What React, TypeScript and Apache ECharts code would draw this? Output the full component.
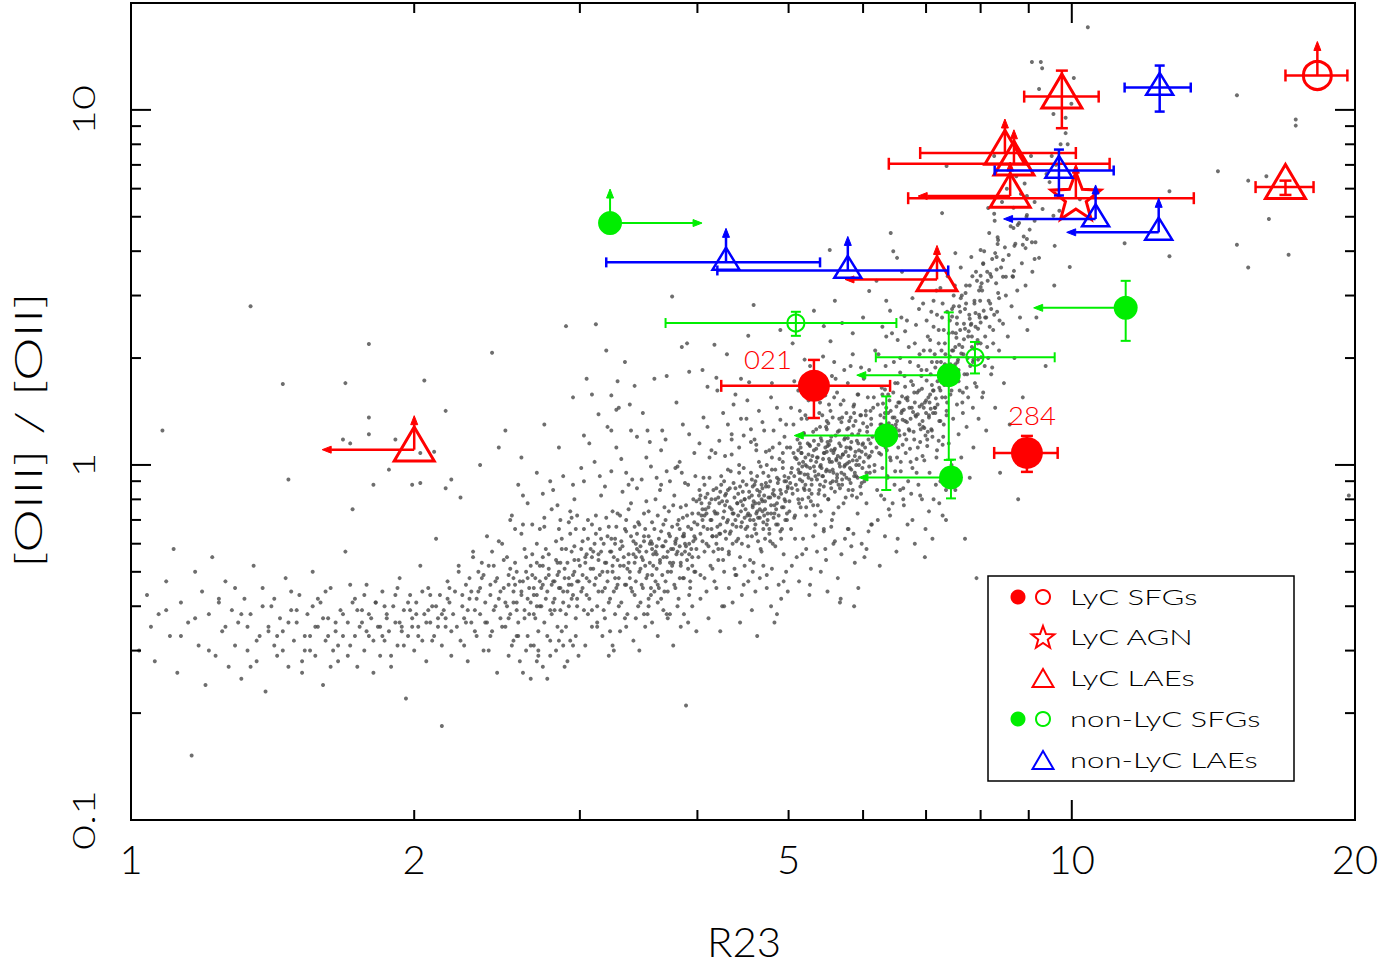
import React, { useEffect, useRef } from "react";
import * as echarts from "echarts";

// ---------- axes ----------
const X_MIN = 1;
const X_MAX = 20;
const Y_MIN = 0.1;
const Y_MAX = 20;
const X_TICK_LABELS = [1, 2, 5, 10, 20];
const Y_TICK_LABELS = [0.1, 1, 10];
const X_MAJOR_TICKS = [10];
const X_MINOR_TICKS = [2, 3, 4, 5, 6, 7, 8, 9];
const Y_MAJOR_TICKS = [1, 10];
const Y_MINOR_TICKS = [0.2, 0.3, 0.4, 0.5, 0.6, 0.7, 0.8, 0.9, 2, 3, 4, 5, 6, 7, 8, 9];
const X_TITLE = "R23";
const Y_TITLE = "[OIII] / [OII]";
const LEGEND_LABELS = ["LyC SFGs", "LyC AGN", "LyC LAEs", "non-LyC SFGs", "non-LyC LAEs"];

// ---------- measured objects: R23, O32, error ranges, limit flags ----------
type Obj = {
  r: number; o: number;
  rLo?: number; rHi?: number; oLo?: number; oHi?: number;
  up?: boolean; left?: boolean; right?: boolean; label?: string;
};

const LYC_SFG_FILLED: Obj[] = [
  { label: "021", r: 5.32, o: 1.67, rLo: 4.24, rHi: 6.41, oLo: 1.356, oHi: 1.976 },
  { label: "284", r: 8.96, o: 1.081, rLo: 8.27, rHi: 9.66, oLo: 0.956, oHi: 1.207 },
];
const LYC_SFG_OPEN: Obj[] = [
  { r: 18.24, o: 12.5, rLo: 16.87, rHi: 19.63, up: true },
];
const LYC_AGN: Obj[] = [
  { r: 10.1, o: 5.64, rLo: 6.7, rHi: 13.48, up: true },
];
const LYC_LAE: Obj[] = [
  { r: 9.76, o: 10.9, rLo: 8.9, rHi: 10.68, oLo: 8.88, oHi: 12.9 },
  { r: 8.49, o: 7.56, rLo: 6.9, rHi: 10.1, up: true },
  { r: 8.68, o: 7.05, rLo: 6.39, rHi: 10.97, up: true },
  { r: 8.6, o: 5.72, up: true, left: true },
  { r: 2.0, o: 1.104, up: true, left: true },
  { r: 7.19, o: 3.33, up: true, left: true },
  { r: 16.87, o: 6.06, rLo: 15.68, rHi: 18.07, oLo: 5.76, oHi: 6.32 },
];
const NONLYC_SFG_FILLED: Obj[] = [
  { r: 3.23, o: 4.8, up: true, right: true },
  { r: 7.4, o: 1.79, oLo: 1.033, oHi: 2.69, left: true },
  { r: 6.35, o: 1.21, oLo: 0.85, oHi: 1.56, left: true },
  { r: 7.44, o: 0.922, oLo: 0.805, oHi: 1.035, left: true },
  { r: 11.41, o: 2.77, oLo: 2.236, oHi: 3.3, left: true },
];
const NONLYC_SFG_OPEN: Obj[] = [
  { r: 5.09, o: 2.51, rLo: 3.7, rHi: 6.51, oLo: 2.31, oHi: 2.7 },
  { r: 7.89, o: 2.01, rLo: 6.19, rHi: 9.59, oLo: 1.81, oHi: 2.22 },
];
const NONLYC_LAE: Obj[] = [
  { r: 12.4, o: 11.56, rLo: 11.38, rHi: 13.38, oLo: 9.89, oHi: 13.33 },
  { r: 9.69, o: 6.75, rLo: 8.28, rHi: 11.08, oLo: 5.74, oHi: 7.73 },
  { r: 10.6, o: 4.93, up: true, left: true },
  { r: 12.37, o: 4.52, up: true, left: true },
  { r: 4.29, o: 3.72, rLo: 3.2, rHi: 5.4, up: true },
  { r: 5.78, o: 3.53, rLo: 4.2, rHi: 7.39, up: true },
];

// ---------- background galaxy sample [R23, O32] ----------
const BG_LOW: number[][] = [
  [1.02,0.30],[1.04,0.43],[1.05,0.35],[1.06,0.28],[1.07,0.38],[1.08,1.25],[1.09,0.47],[1.10,0.33],[1.11,0.58],[1.12,0.26],
  [1.13,0.41],[1.15,0.36],[1.16,0.152],[1.17,0.50],[1.18,0.31],[1.19,0.44],[1.20,0.24],[1.21,0.38],[1.22,0.55],[1.23,0.29],
  [1.24,0.42],[1.25,0.34],[1.26,0.47],[1.27,0.27],[1.28,0.39],[1.29,0.31],[1.30,0.36],[1.31,0.25],[1.32,0.42],[1.33,0.30],
  [1.34,2.80],[1.34,0.38],[1.35,0.52],[1.36,0.28],[1.37,0.33],[1.38,0.45],[1.39,0.23],[1.40,0.35],[1.41,0.40],[1.42,0.31],
  [1.43,0.29],[1.44,0.37],[1.45,1.69],[1.45,0.34],[1.46,0.48],[1.47,0.91],[1.47,0.27],[1.48,0.39],[1.49,0.32],[1.50,0.36],
  [1.51,0.43],[1.52,0.26],[1.53,0.30],[1.54,0.38],[1.55,0.33],[1.56,0.50],[1.57,0.29],[1.58,0.35],[1.59,0.41],[1.60,0.24],
  [1.61,0.32],[1.62,0.37],[1.63,0.45],[1.64,0.30],[1.65,0.34],[1.66,0.28],[1.67,0.39],[1.68,0.33],[1.69,0.57],[1.70,0.36],
  [1.71,0.31],[1.72,0.75],[1.73,0.42],[1.74,0.27],[1.75,0.35],[1.76,0.39],[1.77,0.30],[1.78,0.46],[1.79,2.19],[1.79,0.33],
  [1.80,0.37],[1.81,0.26],[1.82,0.41],[1.83,0.35],[1.84,0.29],[1.85,0.44],[1.86,0.32],[1.87,0.38],[1.88,0.97],[1.88,0.34],
  [1.89,0.27],[1.90,0.40],[1.91,0.36],[1.92,0.31],[1.93,0.48],[1.94,0.35],[1.95,0.39],[1.96,0.22],[1.97,0.33],[1.98,0.43],
  [1.99,0.37],[2.00,0.30],[2.01,0.41],[2.02,0.35],[2.03,0.52],[2.04,0.32],[2.05,1.73],[2.05,0.38],[2.06,0.28],[2.07,0.45],
  [2.08,0.36],[2.09,0.40],[2.10,0.33],[2.11,0.62],[2.12,0.37],[2.13,0.43],[2.14,0.31],[2.14,0.184],[2.15,0.39],[2.16,0.35],
  [2.17,0.47],[2.18,0.41],[2.19,0.29],[2.20,0.38],[1.69,1.70],[2.16,1.42],[1.79,1.36],[1.79,1.22],[1.68,1.18],[1.71,1.15],
  [1.91,1.18],[2.03,1.08],[2.10,1.09],[1.81,0.88],[1.99,0.88],[2.03,0.89],[2.19,0.91],[2.16,0.86],
  [1.13,0.33],[1.38,0.40],[1.21,0.30],[1.57,0.35],[1.29,0.45],[1.66,0.31],[1.09,0.39],[1.47,0.36],[1.74,0.39],[1.34,0.27],
  [1.61,0.44],[1.26,0.35],[1.53,0.33],[1.81,0.32],[1.42,0.42],[1.70,0.29],[1.17,0.37],[1.93,0.36],[1.50,0.39],[1.77,0.43],
  [1.36,0.32],[1.63,0.27],[1.86,0.40],[1.45,0.30],[1.97,0.41],[1.31,0.38],[1.58,0.42],[2.02,0.33],[1.40,0.34],[1.68,0.38],
  [1.89,0.29],[1.55,0.30],[2.07,0.39],[1.24,0.41],[1.73,0.33],[1.99,0.35],[1.48,0.44],[2.12,0.35],[1.65,0.36],[1.84,0.35],
  [2.17,0.42],[1.52,0.28],[1.79,0.38],[2.04,0.44],[1.43,0.33],[1.91,0.43],[2.09,0.32],[1.60,0.37],[1.95,0.31],[2.14,0.38],
  [1.71,0.46],[1.87,0.37],[2.19,0.34],[1.33,0.35],[1.76,0.36],[2.01,0.38],[1.56,0.40],[1.82,0.41],[2.06,0.36],[1.94,0.34],
  [1.62,0.33],[2.11,0.40],[1.85,0.33],[2.16,0.37],[1.72,0.41],[1.98,0.39],[1.92,0.45],[2.18,0.45],[1.78,0.34],[2.08,0.43],
];
const BG_MID: number[][] = [
  [2.21,0.44],[2.22,0.35],[2.23,0.50],[2.24,0.32],[2.24,0.81],[2.25,0.40],[2.26,0.37],[2.27,0.46],[2.28,0.28],[2.29,0.42],
  [2.30,0.36],[2.31,0.55],[2.32,0.39],[2.33,0.33],[2.34,0.44],[2.35,0.38],[2.36,0.48],[2.37,0.30],[2.38,0.41],[2.39,0.36],
  [2.40,0.52],[2.41,0.43],[2.42,2.07],[2.42,0.34],[2.43,0.39],[2.44,0.47],[2.45,0.26],[2.46,0.42],[2.46,1.12],[2.47,0.37],
  [2.48,0.60],[2.49,0.45],[2.50,0.35],[2.51,0.40],[2.52,0.49],[2.53,0.38],[2.54,0.31],[2.55,0.44],[2.56,0.53],[2.57,0.41],
  [2.58,0.36],[2.59,0.47],[2.60,0.43],[2.61,0.68],[2.62,0.39],[2.63,0.50],[2.64,0.33],[2.65,0.45],[2.66,0.41],[2.67,0.56],
  [2.68,0.38],[2.69,0.48],[2.70,0.43],[2.71,0.29],[2.72,0.52],[2.73,0.40],[2.74,0.46],[2.75,0.36],[2.76,0.58],[2.77,0.44],
  [2.78,0.49],[2.79,0.39],[2.80,0.75],[2.81,0.47],[2.82,0.42],[2.83,0.54],[2.84,0.35],[2.85,0.50],[2.86,0.45],[2.87,0.62],
  [2.88,0.41],[2.89,0.48],[2.90,2.46],[2.90,0.38],[2.91,0.53],[2.92,0.46],[2.93,0.32],[2.94,0.57],[2.95,0.43],[2.96,0.50],
  [2.97,0.66],[2.98,0.40],[2.99,0.47],[2.52,0.46],[2.55,0.41],[2.57,0.50],[2.60,0.44],[2.62,0.37],[2.64,0.48],[2.66,0.52],
  [2.68,0.45],[2.70,0.40],[2.72,0.47],[2.74,0.55],[2.76,0.42],[2.78,0.51],[2.80,0.46],[2.82,0.39],[2.84,0.49],[2.86,0.53],
  [2.88,0.44],[2.90,0.58],[2.92,0.48],[2.94,0.42],[2.96,0.54],[2.98,0.47],
  [2.23,0.52],[2.71,0.34],[2.46,0.61],[2.88,0.31],[2.35,0.45],[2.62,0.58],[2.97,0.37],[2.28,0.39],[2.54,0.72],[2.81,0.41],
  [2.40,0.30],[2.67,0.49],[2.93,0.64],[2.31,0.57],[2.58,0.33],[2.84,0.53],[2.44,0.40],[2.75,0.67],[2.26,0.31],[2.51,0.55],
  [2.79,0.29],[2.37,0.49],[2.64,0.42],[2.91,0.44],[2.48,0.35],[2.70,0.60],[2.99,0.54],[2.33,0.42],[2.56,0.46],[2.86,0.39],
  [2.42,0.57],[2.69,0.37],[2.95,0.49],[2.29,0.48],[2.60,0.64],[2.77,0.33],[2.38,0.36],[2.53,0.51],[2.83,0.61],[2.47,0.44],
  [2.73,0.45],[2.90,0.35],[2.25,0.43],[2.66,0.31],[2.94,0.71],[2.36,0.53],[2.57,0.39],[2.82,0.47],[2.45,0.48],[2.74,0.52],
  [2.98,0.42],[2.32,0.34],[2.63,0.55],[2.87,0.58],[2.41,0.46],[2.68,0.43],[2.92,0.40],[2.50,0.41],[2.78,0.56],[2.39,0.63],
  [2.59,0.28],[2.85,0.45],[2.27,0.36],[2.55,0.48],[2.80,0.38],[2.43,0.52],[2.72,0.40],[2.96,0.59],[2.34,0.50],[2.61,0.47],
  [2.89,0.51],[2.49,0.54],[2.76,0.48],[2.30,0.44],[2.65,0.38],[2.94,0.46],[2.52,0.37],[2.85,0.66],[2.41,0.33],[2.70,0.53],
  [3.00,0.52],[3.01,0.44],[3.02,0.61],[3.03,0.39],[3.04,0.55],[3.05,0.48],[3.06,0.70],[3.07,0.42],[3.08,0.58],[3.09,0.35],
  [3.10,0.51],[3.11,0.46],[3.12,0.64],[3.13,0.40],[3.14,0.56],[3.15,0.49],[3.16,0.82],[3.17,0.44],[3.18,0.60],[3.19,0.37],
  [3.20,0.53],[3.21,0.47],[3.22,0.67],[3.23,0.42],[3.24,0.57],[3.25,0.50],[3.26,0.30],[3.27,0.62],[3.28,0.45],[3.29,0.54],
  [3.30,1.45],[3.30,0.48],[3.31,0.72],[3.32,0.41],[3.33,0.59],[3.34,0.52],[3.35,0.46],[3.36,0.65],[3.37,0.38],[3.38,0.56],
  [3.39,0.50],[3.40,0.78],[3.41,0.44],[3.42,0.61],[3.43,0.53],[3.44,0.47],[3.45,1.20],[3.45,0.58],[3.46,0.40],[3.47,0.68],
  [3.48,0.51],[3.49,0.55],[3.50,0.45],[3.51,0.63],[3.52,0.35],[3.53,0.57],[3.54,0.49],[3.55,0.74],[3.56,0.53],[3.57,0.43],
  [3.58,0.60],[3.59,0.52],[3.60,1.75],[3.60,0.66],[3.61,0.47],[3.62,0.56],[3.63,0.41],[3.64,0.62],[3.65,0.54],[3.66,0.88],
  [3.67,0.49],[3.68,0.59],[3.69,0.44],[3.70,0.70],[3.71,0.55],[3.72,0.50],[3.73,0.64],[3.74,0.38],[3.75,0.58],[3.76,0.52],
  [3.77,0.77],[3.78,0.46],[3.79,0.61],[3.80,0.56],[3.81,0.68],[3.82,0.42],[3.83,0.59],[3.84,0.53],[3.85,0.95],[3.86,0.48],
  [3.87,0.63],[3.88,0.57],[3.89,0.21],[3.90,2.20],[3.90,0.72],[3.91,0.51],[3.92,0.60],[3.93,0.45],[3.94,0.66],[3.95,0.55],
  [3.96,0.80],[3.97,0.50],[3.98,0.62],[3.99,0.58],
  [3.07,0.47],[3.52,0.66],[3.18,0.39],[3.86,0.71],[3.33,0.84],[3.64,0.45],[3.01,0.58],[3.95,0.52],[3.27,0.60],[3.71,0.38],
  [3.44,0.55],[3.12,0.72],[3.80,0.62],[3.58,0.49],[3.23,0.34],[3.91,0.88],[3.37,0.51],[3.69,0.76],[3.05,0.43],[3.48,0.59],
  [3.83,0.48],[3.16,0.62],[3.61,0.57],[3.29,0.46],[3.97,0.69],[3.41,0.91],[3.74,0.53],[3.09,0.55],[3.55,0.42],[3.88,0.60],
  [3.21,0.50],[3.66,0.65],[3.35,0.37],[3.78,0.82],[3.03,0.66],[3.50,0.54],[3.93,0.47],[3.25,0.74],[3.62,0.51],[3.14,0.44],
  [3.85,0.56],[3.46,0.69],[3.72,0.44],[3.31,0.58],[3.99,0.79],[3.57,0.61],[3.19,0.53],[3.81,0.99],[3.39,0.48],[3.67,0.59],
  [3.06,0.38],[3.53,0.79],[3.90,0.54],[3.28,0.67],[3.75,0.50],[3.43,0.43],[3.11,0.60],[3.63,0.72],[3.34,0.55],[3.87,0.64],
  [3.22,0.41],[3.59,0.56],[3.96,0.61],[3.40,0.63],[3.70,0.47],[3.08,0.51],[3.54,0.38],[3.82,0.70],[3.26,0.55],[3.65,0.85],
  [3.15,0.66],[3.47,0.50],[3.92,0.43],[3.36,0.70],[3.77,0.58],[3.02,0.45],[3.60,0.44],[3.89,0.77],[3.24,0.62],[3.68,0.55],
  [3.42,0.56],[3.13,0.35],[3.84,0.52],[3.51,0.73],[3.30,0.40],[3.76,0.67],[3.04,0.53],[3.56,0.60],[3.94,0.58],[3.20,0.71],
  [3.63,0.46],[3.38,0.53],[3.79,0.45],[3.10,0.57],[3.49,0.46],[3.86,0.63],[3.27,0.48],[3.73,0.74],[3.45,0.64],[3.17,0.50],
  [3.98,0.50],[3.58,0.69],[3.32,0.61],[3.70,0.61],[3.06,0.62],[3.52,0.52],[3.81,0.57],[3.23,0.57],[3.66,0.42],[3.40,0.45],
  [3.91,0.67],[3.14,0.54],[3.55,0.63],[3.29,0.73],[3.77,0.53],[3.48,0.41],[3.02,0.49],[3.62,0.59],[3.87,0.48],[3.35,0.66],
  [3.19,0.45],[3.74,0.63],[3.44,0.60],[3.95,0.73],[3.09,0.68],[3.57,0.45],[3.83,0.66],[3.26,0.44],[3.68,0.68],[3.38,0.75],
  [3.12,0.48],[3.61,0.80],[3.92,0.56],[3.47,0.57],[3.21,0.63],[3.79,0.60],[3.53,0.48],[3.31,0.52],[3.72,0.57],[3.05,0.56],
  [3.89,0.59],[3.43,0.67],[3.16,0.57],[3.65,0.53],[3.36,0.46],[3.84,0.76],[3.58,0.58],[3.25,0.52],[3.97,0.63],[3.51,0.61],
  [3.76,2.98],[3.12,2.49],[3.85,2.15],[3.29,1.72],[3.43,1.67],[3.71,1.78],[3.92,1.83],[3.09,1.58],[3.24,1.57],[3.39,1.48],
  [3.14,1.39],[3.28,1.43],[3.03,1.21],[3.24,1.25],[3.54,1.25],[3.67,1.25],
];
const BG_CORE: number[][] = [
  [4.00,0.68],[4.01,0.55],[4.02,0.80],[4.03,0.49],[4.04,0.72],[4.05,0.61],[4.06,0.92],[4.07,0.57],[4.08,0.75],[4.09,0.44],
  [4.10,0.66],[4.11,0.59],[4.12,1.05],[4.13,0.52],[4.14,0.70],[4.15,0.63],[4.16,0.85],[4.17,0.47],[4.18,0.73],[4.19,0.60],
  [4.20,1.62],[4.20,0.67],[4.21,0.54],[4.22,0.78],[4.23,0.64],[4.24,0.88],[4.25,0.58],[4.26,0.71],[4.27,0.40],[4.28,0.82],
  [4.29,0.62],[4.30,0.69],[4.31,0.97],[4.32,0.56],[4.33,0.76],[4.34,0.65],[4.35,1.18],[4.36,0.60],[4.37,0.73],[4.38,0.51],
  [4.39,0.86],[4.40,0.67],[4.41,0.78],[4.42,0.62],[4.43,1.00],[4.44,0.55],[4.45,0.74],[4.46,0.69],[4.47,0.90],[4.48,0.46],
  [4.49,0.80],[4.50,0.66],[4.51,1.35],[4.52,0.72],[4.53,0.59],[4.54,1.71],[4.54,0.84],[4.55,0.70],[4.56,0.95],[4.57,0.63],
  [4.58,0.77],[4.59,0.53],[4.60,0.88],[4.61,0.68],[4.62,1.10],[4.63,0.74],[4.64,0.61],[4.65,0.82],[4.66,0.71],[4.67,0.99],
  [4.68,0.57],[4.69,0.79],[4.70,0.66],[4.71,1.25],[4.72,0.75],[4.73,0.87],[4.74,0.49],[4.75,0.70],[4.76,0.93],[4.77,0.64],
  [4.78,0.81],[4.79,0.73],[4.80,1.05],[4.81,0.60],[4.82,0.85],[4.83,0.77],[4.84,0.97],[4.85,0.68],[4.86,0.38],[4.87,0.89],
  [4.88,0.72],[4.89,1.15],[4.90,0.65],[4.91,0.83],[4.92,0.76],[4.93,1.02],[4.94,0.56],[4.95,0.90],[4.96,0.79],[4.97,1.30],
  [4.98,0.70],[4.99,0.86],
  [4.07,0.72],[4.63,0.93],[4.21,0.58],[4.88,0.81],[4.35,1.07],[4.72,0.62],[4.02,0.85],[4.96,0.70],[4.28,0.77],[4.55,0.54],
  [4.81,1.12],[4.14,0.66],[4.47,0.84],[4.69,0.74],[4.39,0.49],[5.03,0.95],[4.24,0.93],[4.76,0.87],[4.09,0.60],[4.58,0.76],
  [4.92,0.66],[4.31,0.70],[4.65,1.02],[4.18,0.80],[4.84,0.59],[4.43,0.95],[4.70,0.69],[4.05,0.75],[4.52,0.63],[4.99,0.87],
  [4.26,0.54],[4.61,0.78],[4.37,0.89],[4.79,0.77],[4.12,0.92],[4.49,0.71],[5.06,1.08],[4.33,0.64],[4.67,0.58],[4.20,0.73],
  [4.86,0.92],[4.45,0.67],[4.74,1.00],[4.03,0.64],[4.57,0.91],[4.94,0.76],[4.29,0.83],[4.60,0.66],[4.16,0.57],[4.82,0.71],
  [4.41,0.78],[4.71,0.82],[4.08,0.81],[4.53,0.73],[5.01,0.79],[4.36,0.73],[4.64,0.71],[4.23,0.68],[4.89,1.04],[4.46,0.60],
  [4.77,0.66],[4.11,0.76],[4.56,1.16],[4.97,0.84],[4.32,0.57],[4.68,0.80],[4.19,0.86],[4.85,0.75],[4.42,0.72],[4.73,0.89],
  [4.06,0.67],[4.51,0.88],[5.08,0.72],[4.27,0.74],[4.62,0.64],[4.38,0.81],[4.80,0.97],[4.13,0.70],[4.48,0.98],[4.91,0.62],
  [4.34,0.96],[4.66,0.75],[4.22,0.64],[4.87,0.68],[4.44,0.87],[4.75,0.73],[4.04,0.78],[4.59,0.70],[4.95,0.93],[4.30,0.79],
  [4.63,0.85],[4.17,0.74],[4.83,0.82],[4.40,0.61],[4.70,0.95],[4.10,0.83],[4.54,0.81],[5.04,0.86],[4.25,0.79],[4.78,0.61],
  [4.15,0.63],[4.50,0.75],[4.93,0.98],[4.35,0.75],[4.68,0.88],[4.21,0.81],[4.86,0.78],[4.45,0.79],[4.74,0.68],[4.01,0.73],
  [4.57,0.82],[4.98,0.73],[4.28,0.65],[4.61,0.90],[4.12,0.78],[4.81,0.83],[4.39,0.70],[4.72,0.79],[4.07,0.88],[4.52,0.67],
  [5.02,0.89],[4.33,0.86],[4.65,0.78],[4.19,0.63],[4.88,0.91],[4.47,0.77],[4.76,0.81],[4.05,0.70],[4.58,0.87],[4.95,0.80],
  [4.27,0.90],[4.62,0.73],[4.14,0.80],[4.83,0.73],[4.42,0.83],[4.71,0.72],[4.09,0.73],[4.55,0.72],[5.07,0.93],[4.36,0.68],
  [4.66,0.84],[4.23,0.84],[4.90,0.85],[4.49,0.80],[4.78,0.90],[4.03,0.82],[4.59,0.79],[4.97,0.90],[4.31,0.85],[4.69,0.86],
  [5.00,0.92],[5.01,0.74],[5.02,1.12],[5.03,0.66],[5.04,0.98],[5.05,0.83],[5.06,1.30],[5.07,0.71],[5.08,1.05],[5.09,0.88],
  [5.10,0.55],[5.11,1.18],[5.12,0.80],[5.13,0.95],[5.14,1.42],[5.15,0.76],[5.16,1.08],[5.17,0.90],[5.18,0.62],[5.19,1.22],
  [5.20,0.85],[5.21,1.00],[5.22,0.72],[5.23,1.35],[5.24,0.94],[5.25,0.81],[5.26,1.14],[5.27,0.46],[5.28,1.03],[5.29,0.88],
  [5.30,1.55],[5.31,0.77],[5.32,1.10],[5.33,0.96],[5.34,0.68],[5.35,1.26],[5.36,0.91],[5.37,1.05],[5.38,0.83],[5.39,1.40],
  [5.40,0.99],[5.41,0.74],[5.42,1.17],[5.43,0.93],[5.44,1.65],[5.45,0.87],[5.46,1.08],[5.47,0.58],[5.48,1.28],[5.49,0.97],
  [5.50,1.13],[5.51,0.80],[5.52,1.48],[5.53,1.02],[5.54,0.89],[5.55,1.20],[5.56,0.70],[5.57,1.36],[5.58,0.95],[5.59,1.10],
  [5.60,0.84],[5.61,1.75],[5.62,1.04],[5.63,0.92],[5.64,1.24],[5.65,0.76],[5.66,1.15],[5.67,0.99],[5.68,0.42],[5.69,1.32],
  [5.70,0.88],[5.71,1.07],[5.72,1.52],[5.73,0.94],[5.74,1.19],[5.75,0.81],[5.76,1.40],[5.77,1.01],[5.78,0.66],[5.79,1.27],
  [5.80,0.91],[5.81,1.12],[5.82,1.90],[5.83,0.97],[5.84,1.22],[5.85,0.85],[5.86,1.46],[5.87,0.40],[5.88,1.06],[5.89,1.33],
  [5.90,0.93],[5.91,1.17],[5.92,0.73],[5.93,1.58],[5.94,1.00],[5.95,1.25],[5.96,0.87],[5.97,1.38],[5.98,1.09],[5.99,0.98],
  [5.12,0.97],[5.66,1.25],[5.28,0.79],[5.94,1.10],[5.43,1.38],[5.79,0.85],[5.15,1.12],[6.05,0.95],[5.35,1.02],[5.58,0.73],
  [5.87,1.48],[5.21,0.88],[5.52,1.14],[5.73,0.99],[5.45,0.66],[6.12,1.30],[5.31,1.24],[5.83,1.16],[5.17,0.80],[5.62,1.03],
  [5.98,0.89],[5.38,0.94],[5.70,1.36],[5.25,1.07],[5.91,0.81],[5.49,1.26],[5.76,0.92],[5.13,1.01],[5.55,0.86],[6.08,1.18],
  [5.33,0.72],[5.68,1.05],[5.41,1.19],[5.85,1.03],[5.19,1.23],[5.53,0.96],[6.15,1.45],[5.39,0.85],[5.72,0.78],[5.27,0.98],
  [5.93,1.22],[5.47,0.90],[5.80,1.33],[5.11,0.85],[5.61,1.21],[6.01,1.02],[5.35,1.11],[5.65,0.88],[5.22,0.76],[5.88,0.95],
  [5.44,1.04],[5.75,1.09],[5.16,1.08],[5.57,0.97],[6.10,1.06],[5.42,0.98],[5.69,0.95],[5.29,0.91],[5.96,1.38],[5.51,0.80],
  [5.82,0.89],[5.18,1.02],[5.59,1.55],[6.03,1.12],[5.37,0.77],[5.71,1.07],[5.24,1.15],[5.90,1.00],[5.48,0.96],[5.78,1.19],
  [5.14,0.91],[5.54,1.17],[6.17,0.96],[5.32,0.99],[5.67,0.86],[5.45,1.08],[5.86,1.29],[5.20,0.94],[5.51,1.31],[5.97,0.83],
  [5.40,1.28],[5.74,1.00],[5.26,0.85],[5.92,0.92],[5.50,1.16],[5.81,0.98],[5.10,1.04],[5.63,0.94],[6.06,1.24],[5.36,1.05],
  [5.68,1.13],[5.23,0.99],[5.89,1.09],[5.46,0.82],[5.77,1.26],[5.15,0.95],[5.58,1.08],[6.13,1.09],[5.30,1.06],[5.84,0.82],
  [5.19,0.86],[5.56,1.02],[6.00,1.31],[5.41,1.00],[5.73,1.18],[5.27,1.13],[5.95,1.05],[5.49,1.09],[5.79,1.06],[5.12,1.10],
  [5.62,0.90],[6.09,0.99],[5.34,0.93],[5.66,1.01],[5.21,1.05],[5.87,0.93],[5.44,0.93],[5.76,1.12],[5.13,0.78],[5.60,1.11],
  [6.04,1.07],[5.38,1.14],[5.70,0.91],[5.25,0.92],[5.93,1.15],[5.52,1.04],[5.82,1.11],[5.17,0.99],[5.57,0.90],[6.11,1.15],
  [5.32,1.17],[5.64,1.06],[5.29,0.83],[5.91,1.03],[5.47,1.12],[5.80,1.02],[5.14,1.15],[5.55,1.10],[5.99,1.14],[5.40,0.88],
  [4.59,2.82],[4.17,2.18],[4.53,2.31],[5.32,2.72],[5.45,2.46],[5.70,2.51],[5.54,2.23],[5.53,4.03],[4.10,1.66],[4.19,1.76],
];
const BG_HIGH: number[][] = [
  [6.00,1.15],[6.02,0.90],[6.04,1.42],[6.05,0.78],[6.06,1.28],[6.08,1.05],[6.09,1.85],[6.10,0.95],[6.12,1.35],[6.13,0.68],
  [6.14,1.20],[6.16,1.55],[6.17,1.00],[6.18,2.10],[6.20,1.12],[6.21,0.85],[6.22,1.48],[6.24,1.08],[6.25,0.52],[6.26,1.30],
  [6.28,1.65],[6.29,0.98],[6.30,1.22],[6.32,0.80],[6.33,1.40],[6.34,1.90],[6.36,1.10],[6.37,0.92],[6.38,1.58],[6.40,1.26],
  [6.41,0.72],[6.42,1.03],[6.44,2.35],[6.45,1.36],[6.46,1.17],[6.48,0.88],[6.49,1.70],[6.50,1.30],[6.52,1.05],[6.53,0.62],
  [6.54,1.50],[6.56,1.21],[6.57,2.00],[6.58,0.96],[6.60,1.42],[6.61,1.14],[6.62,0.80],[6.64,1.78],[6.65,1.33],[6.66,1.08],
  [6.68,2.55],[6.69,1.55],[6.70,0.90],[6.72,1.25],[6.73,1.95],[6.74,1.02],[6.76,1.45],[6.77,0.70],[6.78,1.68],[6.80,1.18],
  [6.81,2.20],[6.82,1.38],[6.84,0.95],[6.85,1.60],[6.86,1.12],[6.88,2.75],[6.89,1.30],[6.90,0.82],[6.92,1.85],[6.93,1.48],
  [6.94,1.06],[6.96,2.10],[6.97,1.27],[6.98,0.55],
  [6.24,1.26],[6.88,1.62],[6.41,1.05],[7.15,1.45],[6.57,1.82],[7.02,1.13],[6.30,1.49],[7.31,1.30],[6.52,1.33],[6.77,0.98],
  [7.10,1.95],[6.36,1.17],[6.69,1.52],[6.95,1.28],[6.62,0.86],[7.38,1.71],[6.46,1.60],[7.06,1.50],[6.27,1.07],[6.83,1.37],
  [7.22,1.17],[6.55,1.25],[6.92,1.78],[6.38,1.40],[7.18,1.05],[6.65,1.66],[6.99,1.21],[6.28,1.30],[6.73,1.11],[7.34,1.55],
  [6.49,0.96],[6.86,1.39],[6.60,1.56],[7.05,1.36],[6.33,1.63],[6.71,1.26],[7.27,2.10],[6.54,1.12],[6.97,1.03],[6.44,1.29],
  [7.13,1.62],[6.67,1.18],[7.01,1.73],[6.25,1.15],[6.80,1.60],[7.25,1.33],[6.51,1.46],[6.90,1.16],[6.37,0.93],[7.09,1.26],
  [6.63,1.43],[6.98,1.50],[6.31,1.22],[6.75,1.72],[7.20,1.48],[6.48,1.36],[6.84,1.04],[6.40,1.52],[7.16,1.88],[6.58,1.02],
  [6.94,1.33],[6.26,1.38],[6.79,1.24],[7.29,1.14],[6.53,1.70],[6.89,1.46],[6.43,1.19],[7.07,1.58],[6.68,1.32],[7.03,1.24],
  [6.34,1.12],[6.72,1.45],[7.23,1.65],[6.47,1.24],[6.87,1.90],[6.61,1.34],[7.11,1.20],[6.29,1.58],[6.78,1.41],[7.36,1.38],
  [6.56,1.50],[6.93,1.64],[6.39,1.31],[7.12,1.40],[6.66,1.54],[7.00,1.40],[6.32,1.36],[6.74,1.35],[7.26,1.78],[6.50,1.27],
  [6.91,1.26],[6.42,1.42],[7.17,1.54],[6.64,1.22],[6.96,1.45],[6.35,1.45],[6.81,1.50],[7.33,1.92],[6.59,1.40],[7.08,1.44],
  [7.00,1.52],[7.02,1.18],[7.03,2.30],[7.05,1.38],[7.06,0.95],[7.08,1.80],[7.09,2.70],[7.10,1.25],[7.12,1.62],[7.13,0.80],
  [7.15,2.05],[7.16,1.45],[7.18,3.10],[7.19,1.10],[7.20,1.72],[7.22,2.40],[7.23,1.33],[7.25,0.90],[7.26,1.95],[7.28,1.55],
  [7.29,2.85],[7.30,1.20],[7.32,1.68],[7.33,2.20],[7.35,0.70],[7.36,1.42],[7.38,3.40],[7.39,1.85],[7.40,1.15],[7.42,2.55],
  [7.43,1.58],[7.45,1.00],[7.46,2.10],[7.48,1.35],[7.49,3.00],[7.50,1.75],[7.52,0.85],[7.53,2.35],[7.55,1.48],[7.56,1.95],
  [7.58,1.22],[7.59,2.80],[7.60,1.62],[7.62,3.60],[7.63,1.05],[7.65,2.15],[7.66,1.40],[7.68,2.50],[7.69,1.80],[7.70,0.62],
  [7.72,3.20],[7.73,1.28],[7.75,2.00],[7.76,1.55],[7.78,2.65],[7.79,0.92],[7.80,1.90],[7.82,3.85],[7.83,2.30],[7.85,1.45],
  [7.86,1.12],[7.88,2.90],[7.89,1.70],[7.90,2.45],[7.92,0.48],[7.93,3.30],[7.95,1.98],[7.96,1.35],[7.98,2.60],
  [7.01,1.85],[7.04,1.55],[7.07,2.10],[7.10,1.68],[7.13,2.45],[7.16,1.40],[7.19,1.95],[7.22,2.20],[7.25,1.62],[7.28,2.60],
  [7.31,1.82],[7.34,2.05],[7.37,1.50],[7.40,2.35],[7.43,1.92],[7.46,2.75],[7.49,1.70],[7.52,2.15],[7.55,2.60],[7.58,1.85],
  [7.61,2.40],[7.64,3.00],[7.67,2.05],[7.70,2.75],[7.73,1.65],[7.76,2.30],[7.79,3.20],[7.82,2.50],[7.85,1.95],[7.88,2.85],
  [7.91,3.50],[7.94,2.25],[7.97,2.65],
  [7.42,2.02],[7.95,2.42],[7.58,1.72],[8.21,2.75],[7.71,3.05],[8.08,1.90],[7.47,2.36],[8.32,3.55],[7.65,1.50],[7.88,2.12],
  [8.14,3.30],[7.52,1.92],[7.79,2.58],[8.01,2.01],[7.68,2.26],[8.38,2.55],[7.45,1.62],[7.99,2.90],[7.61,2.70],[8.25,2.20],
  [7.74,1.80],[8.05,3.70],[7.55,2.50],[7.92,1.66],[8.18,2.45],[7.49,2.80],[7.84,3.40],[8.11,2.60],[7.63,2.06],[8.29,3.95],
  [7.77,2.38],[8.03,1.55],[7.43,1.85],[7.97,3.10],[7.59,2.18],[8.23,1.88],[7.72,2.85],[8.09,2.30],[7.51,3.20],[8.35,3.05],
  [7.86,1.98],[8.16,2.90],[7.66,1.60],[7.94,2.20],[7.46,2.62],[8.27,2.65],[7.81,2.48],[8.06,2.72],[7.57,1.98],[8.19,3.45],
  [7.70,2.42],[8.00,2.52],[7.54,2.28],[7.90,2.68],[8.13,2.15],[7.62,2.95],[8.37,2.95],[7.83,2.15],[7.48,2.10],[8.02,3.25],
  [7.36,6.95],[7.28,5.12],[6.42,4.50],[6.46,4.00],[6.52,3.83],[7.52,3.95],[6.09,3.09],
];
// lower and upper wings of the sequence
const BG_WINGS: number[][] = [
  [2.52,0.29],[2.61,0.26],[2.68,0.31],[2.74,0.27],[2.83,0.30],[2.91,0.28],[2.57,0.33],[2.79,0.32],[2.95,0.31],[2.66,0.25],
  [2.87,0.34],[2.71,0.30],[2.99,0.29],[2.55,0.32],[2.63,0.30],[2.77,0.25],[2.89,0.27],[2.97,0.33],[2.70,0.28],[2.85,0.32],
  [2.53,0.70],[2.64,0.78],[2.72,0.66],[2.81,0.85],[2.93,0.74],[2.58,0.88],[2.75,0.71],[2.88,0.93],[2.96,0.80],[2.67,0.68],
  [2.84,0.77],[2.61,0.82],[2.79,0.90],[2.92,0.69],[2.70,0.95],[2.98,0.72],[2.56,0.66],[2.86,0.70],[2.74,0.83],[2.95,0.88],
  [3.04,0.31],[3.13,0.36],[3.22,0.29],[3.31,0.34],[3.42,0.32],[3.51,0.38],[3.63,0.33],[3.72,0.37],[3.84,0.35],[3.95,0.40],
  [3.09,0.39],[3.27,0.38],[3.47,0.30],[3.58,0.36],[3.77,0.31],[3.91,0.36],[3.17,0.33],[3.36,0.35],[3.55,0.40],[3.68,0.39],
  [3.87,0.38],[3.99,0.34],[3.25,0.31],[3.44,0.37],[3.81,0.40],
  [3.03,0.90],[3.11,1.02],[3.19,0.87],[3.28,1.12],[3.36,0.95],[3.45,0.86],[3.53,1.05],[3.62,0.92],[3.70,1.18],[3.79,0.98],
  [3.88,0.89],[3.97,1.08],[3.07,1.15],[3.24,0.96],[3.40,1.25],[3.57,0.99],[3.74,0.90],[3.92,1.22],[3.15,0.93],[3.32,1.04],
  [3.49,0.91],[3.66,1.10],[3.83,1.02],[3.98,0.93],[3.21,1.28],[3.56,1.16],[3.86,1.30],[3.01,0.98],[3.38,0.88],[3.71,0.96],
  [4.03,0.42],[4.11,0.37],[4.19,0.45],[4.27,0.50],[4.36,0.41],[4.44,0.36],[4.53,0.47],[4.61,0.44],[4.70,0.52],[4.79,0.40],
  [4.88,0.46],[4.97,0.50],[4.07,0.48],[4.23,0.34],[4.40,0.49],[4.57,0.39],[4.74,0.45],[4.91,0.42],[4.15,0.51],[4.32,0.45],
  [4.49,0.52],[4.66,0.48],[4.83,0.36],[4.99,0.44],[4.25,0.40],[4.46,0.43],[4.63,0.33],[4.80,0.51],[4.94,0.47],[4.58,0.50],
  [4.02,1.15],[4.10,1.28],[4.18,1.08],[4.26,1.40],[4.35,1.22],[4.43,1.12],[4.52,1.52],[4.60,1.18],[4.69,1.32],[4.77,1.10],
  [4.86,1.45],[4.95,1.20],[4.06,1.36],[4.22,1.17],[4.39,1.58],[4.56,1.26],[4.73,1.09],[4.90,1.34],[4.14,1.10],[4.31,1.30],
  [4.48,1.21],[4.65,1.42],[4.82,1.25],[4.98,1.12],[4.28,1.06],[4.45,1.35],[4.62,1.14],[4.79,1.55],[4.93,1.08],[4.37,1.48],
  [5.04,0.52],[5.13,0.47],[5.22,0.58],[5.31,0.63],[5.41,0.50],[5.50,0.44],[5.60,0.61],[5.69,0.56],[5.79,0.66],[5.88,0.53],
  [5.98,0.60],[6.08,0.65],[5.08,0.62],[5.26,0.43],[5.45,0.65],[5.64,0.48],[5.83,0.59],[6.02,0.55],[5.17,0.56],[5.36,0.57],
  [5.55,0.67],[5.74,0.62],[5.93,0.45],[6.12,0.68],[5.28,0.51],[5.48,0.54],[5.67,0.41],[5.86,0.64],[6.05,0.58],[5.58,0.60],
  [5.03,1.45],[5.12,1.62],[5.21,1.38],[5.30,1.80],[5.40,1.50],[5.49,1.33],[5.59,1.95],[5.68,1.48],[5.78,1.70],[5.87,1.40],
  [5.97,1.88],[6.07,1.55],[5.07,1.72],[5.25,1.52],[5.44,2.02],[5.63,1.60],[5.82,1.36],[6.01,1.75],[5.16,1.35],[5.35,1.66],
  [5.54,1.42],[5.73,1.85],[5.92,1.58],[6.11,1.42],[5.27,1.90],[5.47,1.57],[5.66,1.35],[5.85,2.05],[6.04,1.38],[5.56,1.78],
  [6.22,0.70],[6.33,0.63],[6.45,0.78],[6.57,0.85],[6.69,0.68],[6.81,0.60],[6.93,0.80],[7.05,0.74],[7.17,0.88],[7.29,0.72],
  [6.27,0.82],[6.51,0.57],[6.75,0.83],[6.99,0.66],[7.23,0.78],[6.39,0.75],[6.63,0.77],[6.87,0.88],[7.11,0.62],[7.35,0.85],
  [6.23,2.05],[6.35,2.30],[6.47,1.95],[6.59,2.60],[6.71,2.15],[6.83,2.48],[6.95,2.85],[7.07,2.25],[7.19,2.65],[7.31,2.40],
  [6.29,2.45],[6.53,2.25],[6.77,2.95],[7.01,2.55],[7.25,3.15],[6.41,2.72],[6.65,2.38],[6.89,2.05],[7.13,2.90],[7.37,2.70],
  [2.60,1.05],[2.75,1.30],[2.95,1.55],[3.05,1.75],[3.35,1.95],[3.50,1.40],[3.80,1.50],[4.05,1.85],[4.30,2.05],[4.45,1.75],
  [4.90,2.40],[5.05,2.20],[5.20,1.98],[5.60,2.90],[5.85,2.35],[6.00,2.60],[6.20,3.30],[6.35,2.90],[6.60,3.50],
  [2.35,1.00],[2.50,1.25],[2.85,1.12],[3.20,2.10],[4.80,1.70],
];
const BG_TOP: number[][] = [
  [8.00,2.20],[8.03,3.10],[8.05,1.60],[8.07,4.00],[8.09,2.60],[8.11,1.25],[8.13,3.50],[8.15,2.00],[8.17,4.50],[8.19,2.85],
  [8.21,1.80],[8.23,3.80],[8.25,2.40],[8.27,5.10],[8.29,1.45],[8.31,3.25],[8.33,2.70],[8.35,4.30],[8.37,2.10],[8.39,0.95],
  [8.41,3.60],[8.43,5.50],[8.45,2.50],[8.47,1.70],[8.49,4.10],[8.51,3.00],[8.53,6.00],[8.55,2.30],[8.57,3.90],[8.59,1.30],
  [8.61,4.70],[8.63,2.80],[8.65,3.40],[8.67,5.30],[8.69,2.00],[8.71,4.20],[8.73,6.50],[8.75,3.10],[8.77,0.80],[8.79,4.80],
  [8.81,2.60],[8.83,5.80],[8.85,3.70],[8.87,1.55],[8.89,4.40],[8.91,6.20],[8.93,3.20],[8.95,5.00],[8.97,2.40],[8.99,7.00],
  [9.02,4.60],[9.08,3.50],[9.17,2.60],[9.38,1.90],[9.58,3.20],[9.40,6.60],[9.70,5.20],[10.2,5.60],[9.90,8.00],[9.62,7.00],
  [8.27,7.42],[9.05,7.42],[9.52,7.42],[9.73,8.00],[9.47,6.26],[8.15,5.29],[8.96,5.06],[9.31,5.26],[9.56,5.03],[9.13,5.50],
  [8.96,5.72],[8.28,4.87],[9.13,4.87],[8.67,4.65],[8.76,4.74],[8.34,4.38],[8.34,4.19],[8.96,4.33],[9.07,4.24],[9.15,4.24],
  [8.69,4.14],[8.87,4.17],[9.59,4.14],[11.38,4.21],[12.7,5.90],[8.00,4.03],[8.32,3.85],[8.05,3.68],[8.45,3.78],[8.21,3.39],
  [8.00,3.41],[8.45,3.39],[8.51,3.39],[8.66,3.39],[8.68,3.52],[8.93,4.08],[9.13,3.80],[9.23,3.83],[9.95,3.61],[8.00,3.17],
  [9.07,13.65],[9.27,13.65],[9.30,13.1],[10.4,17.1],[9.23,11.45],[10.05,12.3],[9.99,10.4],[9.56,9.73],[9.85,9.50],[9.85,8.60],
  [14.98,10.99],[14.3,6.72],[15.4,6.32],[16.1,6.50],[16.2,4.93],[17.0,3.91],[14.98,4.17],[15.4,3.60],[12.7,3.87],[17.3,9.40],
  [17.3,9.03],[19.7,0.82],
];
const BACKGROUND = [...BG_LOW, ...BG_MID, ...BG_CORE, ...BG_HIGH, ...BG_WINGS, ...BG_TOP];

// ---------- styles ----------
const RED = "#ff0000";
const GREEN = "#00ee00";
const BLUE = "#0000ff";
const DOT = "#4a4a4a";
const FAM = "Lato, Roboto, 'DejaVu Sans', sans-serif";
const XNUM_FONT = `300 40px ${FAM}`;
const YNUM_FONT = `300 32px ${FAM}`;
const XTITLE_FONT = `300 42px ${FAM}`;
const YTITLE_FONT = `300 38px ${FAM}`;
const LEGEND_FONT = `300 21px ${FAM}`;
const ANNOT_FONT = `300 25px ${FAM}`;
const ARROW_V = 34;
const ARROW_H = 92;
const LABEL_OFFSETS: Record<string, number[]> = { "021": [-46, -26], "284": [5, -37] };

type MarkStyle = {
  color: string; lw: number; cap: number;
  marker: "disc" | "ring" | "tri" | "star";
  size: number; h?: number; mlw?: number;
};

function starPts(cx: number, cy: number, R: number, r: number) {
  const pts: number[][] = [];
  for (let k = 0; k < 10; k++) {
    const a = -Math.PI / 2 + (k * Math.PI) / 5;
    const rad = k % 2 === 0 ? R : r;
    pts.push([cx + rad * Math.cos(a), cy + rad * Math.sin(a)]);
  }
  return pts;
}
function triPts(cx: number, cy: number, w: number, h: number) {
  return [[cx, cy - (2 * h) / 3], [cx + w / 2, cy + h / 3], [cx - w / 2, cy + h / 3]];
}

function makeRender(list: Obj[], st: MarkStyle) {
  return (params: any, api: any) => {
    const d = list[params.dataIndex];
    const p = api.coord([d.r, d.o]);
    const cx = p[0], cy = p[1];
    const ch: any[] = [];
    const ls = { stroke: st.color, lineWidth: st.lw, fill: "none" };
    const line = (x1: number, y1: number, x2: number, y2: number) =>
      ch.push({ type: "line", shape: { x1, y1, x2, y2 }, style: ls });
    const head = (pts: number[][]) =>
      ch.push({ type: "polygon", shape: { points: pts }, style: { fill: st.color, stroke: st.color, lineWidth: 1 } });
    if (d.rLo != null && d.rHi != null) {
      const xl = api.coord([d.rLo, d.o])[0];
      const xh = api.coord([d.rHi, d.o])[0];
      line(xl, cy, xh, cy);
      line(xl, cy - st.cap, xl, cy + st.cap);
      line(xh, cy - st.cap, xh, cy + st.cap);
    }
    if (d.oLo != null && d.oHi != null) {
      const yl = api.coord([d.r, d.oLo])[1];
      const yh = api.coord([d.r, d.oHi])[1];
      line(cx, yl, cx, yh);
      line(cx - st.cap, yl, cx + st.cap, yl);
      line(cx - st.cap, yh, cx + st.cap, yh);
    }
    const AH = 9, AW = 3.5;
    if (d.up) {
      const t = cy - ARROW_V;
      line(cx, cy, cx, t + AH);
      head([[cx, t], [cx - AW, t + AH], [cx + AW, t + AH]]);
    }
    if (d.left) {
      const t = cx - ARROW_H;
      line(cx, cy, t + AH, cy);
      head([[t, cy], [t + AH, cy - AW], [t + AH, cy + AW]]);
    }
    if (d.right) {
      const t = cx + ARROW_H;
      line(cx, cy, t - AH, cy);
      head([[t, cy], [t - AH, cy - AW], [t - AH, cy + AW]]);
    }
    const mlw = st.mlw ?? st.lw;
    if (st.marker === "disc") {
      ch.push({ type: "circle", shape: { cx, cy, r: st.size }, style: { fill: st.color } });
    } else if (st.marker === "ring") {
      ch.push({ type: "circle", shape: { cx, cy, r: st.size }, style: { fill: "none", stroke: st.color, lineWidth: mlw } });
    } else if (st.marker === "tri") {
      ch.push({ type: "polygon", shape: { points: triPts(cx, cy, st.size, st.h || st.size) }, style: { fill: "none", stroke: st.color, lineWidth: mlw, lineJoin: "miter" } });
    } else {
      ch.push({ type: "polygon", shape: { points: starPts(cx, cy, st.size, st.size * 0.42) }, style: { fill: "none", stroke: st.color, lineWidth: mlw, lineJoin: "miter" } });
    }
    if (d.label) {
      const off = LABEL_OFFSETS[d.label] || [0, -30];
      ch.push({
        type: "text", x: cx + off[0], y: cy + off[1], scaleX: 1.1,
        style: { text: d.label, font: ANNOT_FONT, fill: st.color, align: "center", verticalAlign: "middle", textAlign: "center", textVerticalAlign: "middle" },
      });
    }
    return { type: "group", children: ch };
  };
}

function objSeries(name: string, list: Obj[], st: MarkStyle) {
  return {
    name, type: "custom", coordinateSystem: "cartesian2d", clip: false, silent: true, z: 5,
    data: list.map((d) => [d.r, d.o]),
    renderItem: makeRender(list, st),
  };
}

function tickLine(x1: number, y1: number, x2: number, y2: number) {
  return { type: "line", shape: { x1, y1, x2, y2 }, style: { stroke: "#000", lineWidth: 2 } };
}

export default function App() {
  const ref = useRef<HTMLDivElement>(null);
  useEffect(() => {
    if (!ref.current) return;
    const chart = echarts.init(ref.current, null, { renderer: "svg" });
    const xTicks = [...X_MAJOR_TICKS.map((v) => [v, Y_MIN, 1]), ...X_MINOR_TICKS.map((v) => [v, Y_MIN, 0])];
    const yTicks = [...Y_MAJOR_TICKS.map((v) => [X_MIN, v, 1]), ...Y_MINOR_TICKS.map((v) => [X_MIN, v, 0])];
    const txt = (text: string, font: string) => ({
      text, font, fill: "#000", align: "center", verticalAlign: "middle", textAlign: "center", textVerticalAlign: "middle",
    });

    // legend (layout only)
    const LX1 = 1018, LX2 = 1043, LTX = 1070;
    const rows = [597, 637, 678, 719, 760];
    const legendEls: any[] = [
      { type: "rect", shape: { x: 988, y: 576, width: 306, height: 205 }, style: { fill: "#fff", stroke: "#000", lineWidth: 1.5 }, z: 10 },
      { type: "circle", shape: { cx: LX1, cy: rows[0], r: 7.5 }, style: { fill: RED }, z: 11 },
      { type: "circle", shape: { cx: LX2, cy: rows[0], r: 7 }, style: { fill: "none", stroke: RED, lineWidth: 2 }, z: 11 },
      { type: "polygon", shape: { points: starPts(LX2, rows[1] + 1, 12, 5) }, style: { fill: "none", stroke: RED, lineWidth: 2 }, z: 11 },
      { type: "polygon", shape: { points: triPts(LX2, rows[2] + 3, 21, 18) }, style: { fill: "none", stroke: RED, lineWidth: 2 }, z: 11 },
      { type: "circle", shape: { cx: LX1, cy: rows[3], r: 7.5 }, style: { fill: GREEN }, z: 11 },
      { type: "circle", shape: { cx: LX2, cy: rows[3], r: 7 }, style: { fill: "none", stroke: GREEN, lineWidth: 2 }, z: 11 },
      { type: "polygon", shape: { points: triPts(LX2, rows[4] + 3, 21, 18) }, style: { fill: "none", stroke: BLUE, lineWidth: 2 }, z: 11 },
      ...LEGEND_LABELS.map((t, i) => ({
        type: "text", x: LTX, y: rows[i], scaleX: 1.48, z: 11,
        style: { text: t, font: LEGEND_FONT, fill: "#000", align: "left", verticalAlign: "middle", textAlign: "left", textVerticalAlign: "middle" },
      })),
    ];

    const option: any = {
      animation: false,
      backgroundColor: "#fff",
      grid: { left: 131, top: 3, width: 1224, height: 817, show: true, borderColor: "#000", borderWidth: 2, backgroundColor: "transparent" },
      xAxis: {
        type: "log", logBase: 10, min: X_MIN, max: X_MAX,
        axisLine: { show: false }, axisTick: { show: false }, axisLabel: { show: false }, splitLine: { show: false },
      },
      yAxis: {
        type: "log", logBase: 10, min: Y_MIN, max: Y_MAX,
        axisLine: { show: false }, axisTick: { show: false }, axisLabel: { show: false }, splitLine: { show: false },
      },
      graphic: [
        { type: "text", x: 744, y: 941, style: txt(X_TITLE, XTITLE_FONT) },
        { type: "text", x: 27, y: 430, rotation: Math.PI / 2, scaleX: 1.45, style: txt(Y_TITLE, YTITLE_FONT) },
        ...legendEls,
      ],
      series: [
        {
          name: "SDSS", type: "scatter", data: BACKGROUND, symbol: "circle", symbolSize: 4, silent: true, z: 1,
          itemStyle: { color: DOT }, large: false,
        },
        {
          name: "xticks", type: "custom", coordinateSystem: "cartesian2d", clip: false, silent: true, z: 2, data: xTicks,
          renderItem: (params: any, api: any) => {
            const v = api.value(0), major = api.value(2);
            const L = major ? 20 : 10;
            const pb = api.coord([v, Y_MIN]);
            const pt = api.coord([v, Y_MAX]);
            return { type: "group", children: [tickLine(pb[0], pb[1], pb[0], pb[1] - L), tickLine(pt[0], pt[1], pt[0], pt[1] + L)] };
          },
        },
        {
          name: "yticks", type: "custom", coordinateSystem: "cartesian2d", clip: false, silent: true, z: 2, data: yTicks,
          renderItem: (params: any, api: any) => {
            const v = api.value(1), major = api.value(2);
            const L = major ? 20 : 10;
            const pl = api.coord([X_MIN, v]);
            const pr = api.coord([X_MAX, v]);
            return { type: "group", children: [tickLine(pl[0], pl[1], pl[0] + L, pl[1]), tickLine(pr[0], pr[1], pr[0] - L, pr[1])] };
          },
        },
        {
          name: "xlabels", type: "custom", coordinateSystem: "cartesian2d", clip: false, silent: true, z: 2,
          data: X_TICK_LABELS.map((v) => [v, Y_MIN]),
          renderItem: (params: any, api: any) => {
            const v = X_TICK_LABELS[params.dataIndex];
            const p = api.coord([v, Y_MIN]);
            return { type: "text", x: p[0], y: p[1] + 39, style: txt(String(v), XNUM_FONT) };
          },
        },
        {
          name: "ylabels", type: "custom", coordinateSystem: "cartesian2d", clip: false, silent: true, z: 2,
          data: Y_TICK_LABELS.map((v) => [X_MIN, v]),
          renderItem: (params: any, api: any) => {
            const v = Y_TICK_LABELS[params.dataIndex];
            const p = api.coord([X_MIN, v]);
            return { type: "text", x: p[0] - 49, y: p[1], rotation: Math.PI / 2, scaleX: 1.35, style: txt(String(v), YNUM_FONT) };
          },
        },
        objSeries("non-LyC SFGs open", NONLYC_SFG_OPEN, { color: GREEN, lw: 2, cap: 5, marker: "ring", size: 8.5, mlw: 2 }),
        objSeries("non-LyC SFGs", NONLYC_SFG_FILLED, { color: GREEN, lw: 2, cap: 5, marker: "disc", size: 12 }),
        objSeries("LyC SFGs", LYC_SFG_FILLED, { color: RED, lw: 2.5, cap: 6, marker: "disc", size: 16 }),
        objSeries("LyC SFGs open", LYC_SFG_OPEN, { color: RED, lw: 2.5, cap: 6, marker: "ring", size: 14, mlw: 3 }),
        objSeries("LyC LAEs", LYC_LAE, { color: RED, lw: 2.5, cap: 6, marker: "tri", size: 40, h: 34, mlw: 3 }),
        objSeries("LyC AGN", LYC_AGN, { color: RED, lw: 2.5, cap: 6, marker: "star", size: 26, mlw: 3 }),
        objSeries("non-LyC LAEs", NONLYC_LAE, { color: BLUE, lw: 2.5, cap: 5, marker: "tri", size: 27, h: 22, mlw: 2.5 }),
      ],
    };
    chart.setOption(option);
    return () => chart.dispose();
  }, []);
  return <div ref={ref} style={{ position: "absolute", left: 0, top: 0, width: 1382, height: 965, background: "#fff" }} />;
}
